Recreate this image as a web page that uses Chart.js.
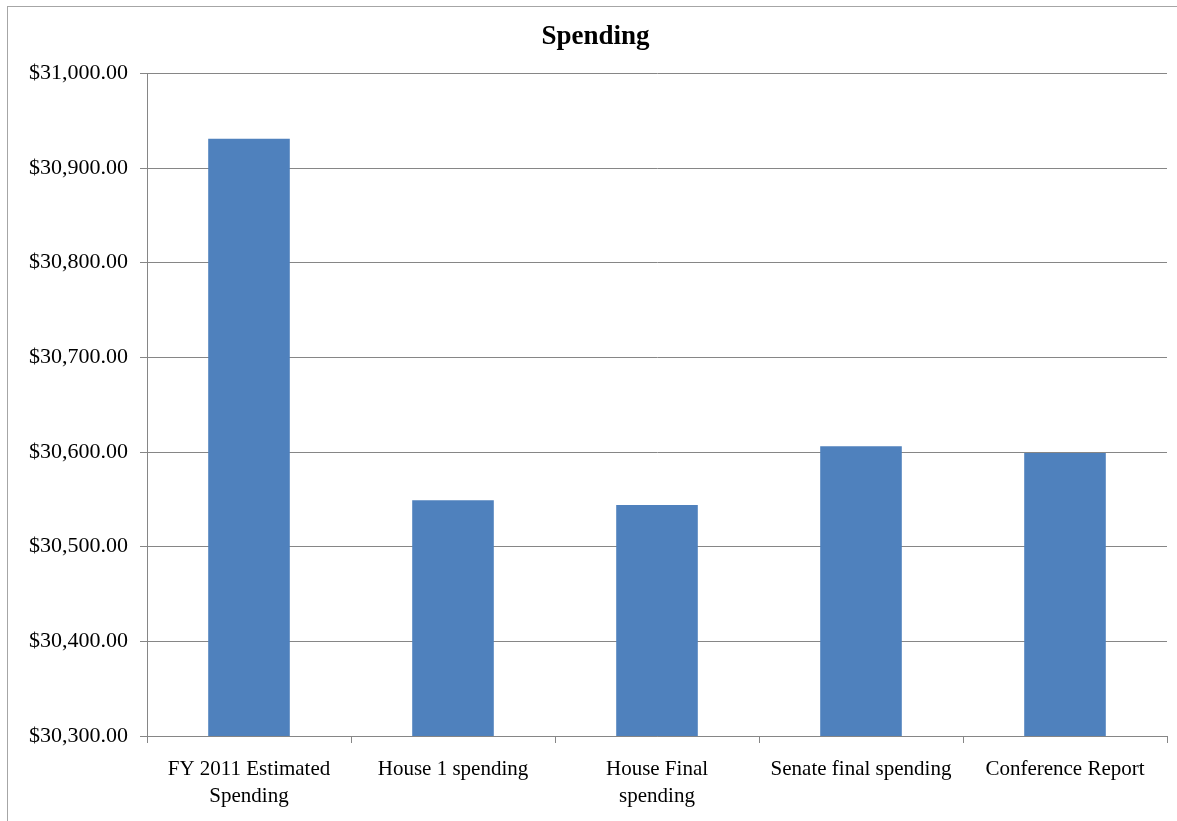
<!DOCTYPE html>
<html>
<head>
<meta charset="utf-8">
<script src="https://cdn.jsdelivr.net/npm/chart.js@4"></script>
<style>
  body { margin: 0; background: #fff; }
  #frame { position: absolute; left: 7px; top: 6px; width: 1175px; height: 830px; border: 1px solid #a6a6a6; }
</style>
</head>
<body>
<div id="frame"><canvas id="my_chart"></canvas></div>
<script>
var categories = [
  ['FY 2011 Estimated', 'Spending'],
  'House 1 spending',
  ['House Final', 'spending'],
  'Senate final spending',
  'Conference Report'
]
var spending = [30931, 30549, 30544, 30606, 30599]
var yMin = 30300
var yMax = 31000
var yStep = 100

const fontFam = "'Liberation Serif', 'Times New Roman', serif"

const scales = {
  x: {
    grid: {
      drawOnChartArea: false,
      drawTicks: true,
      tickLength: 7,
      color: '#868686'
    },
    border: { color: '#868686' },
    ticks: {
      color: '#000',
      padding: 13,
      maxRotation: 0,
      autoSkip: false,
      font: { family: fontFam, size: 21, lineHeight: 1.3 }
    },
    afterFit: function(scale) { scale.height = 101 }
  },
  y: {
    min: yMin,
    max: yMax,
    grid: {
      color: '#868686',
      tickLength: 7
    },
    border: { color: '#868686' },
    ticks: {
      stepSize: yStep,
      color: '#000',
      padding: 12,
      font: { family: fontFam, size: 22 },
      callback: function(v) {
        return '$' + v.toLocaleString('en-US', { minimumFractionDigits: 2, maximumFractionDigits: 2 })
      }
    },
    afterFit: function(scale) { scale.width = 123 }
  }
}

ctx = document.getElementById("my_chart").getContext("2d");
my_chart = new Chart(ctx,
  {
    type: 'bar',
    data: {
      labels: categories,
      datasets: [
        {
          label: 'Spending',
          data: spending,
          backgroundColor: '#4f81bd',
          borderColor: '#4f81bd',
          borderWidth: 0,
          barPercentage: 0.4,
          categoryPercentage: 1.0
        }
      ]
    },
    options: {
      responsive: true,
      maintainAspectRatio: false,
      animation: false,
      layout: { padding: { top: 0, right: 16, bottom: 0, left: 16 } },
      scales: scales,
      plugins: {
        legend: { display: false },
        tooltip: { enabled: false },
        title: {
          display: true,
          text: 'Spending',
          color: '#000',
          font: { family: fontFam, size: 27, weight: 'bold', lineHeight: 1.2 },
          padding: { top: 14, bottom: 20 }
        }
      }
    }
  }
);
</script>
</body>
</html>
